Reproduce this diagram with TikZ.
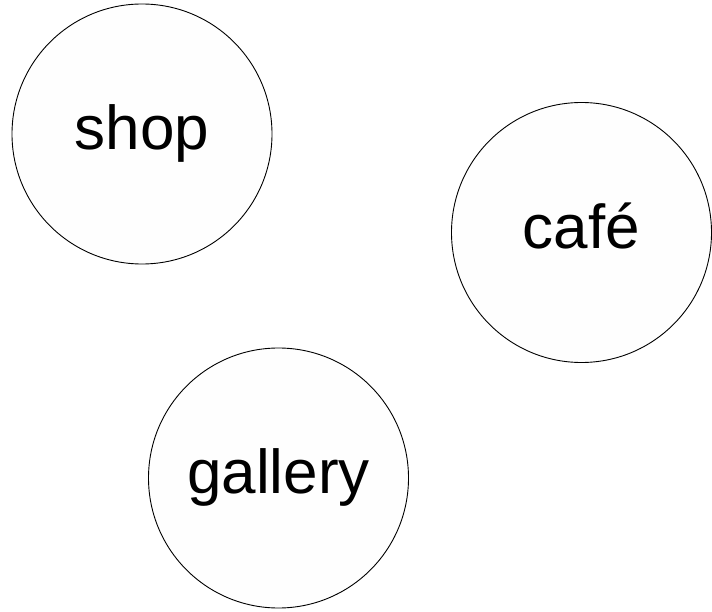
\documentclass[tikz,border=0pt]{standalone}
\usepackage{fontspec}
\setmainfont{Liberation Sans}
\begin{document}
\begin{tikzpicture}[x=1pt,y=-1pt,
  place/.style={circle,draw=black,line width=0.9pt,fill=white!99.5!black,
    minimum size=260pt,inner sep=0pt,font=\fontsize{62}{70}\selectfont,
    text height=44.6pt,text depth=13pt}]
\useasboundingbox (0,0) rectangle (712,612);
\node[place] (shop) at (142,134) {shop};
\node[place] (cafe) at (581.5,232.5) {café};
\node[place] (gallery) at (278.5,478) {gallery};
\end{tikzpicture}
\end{document}
